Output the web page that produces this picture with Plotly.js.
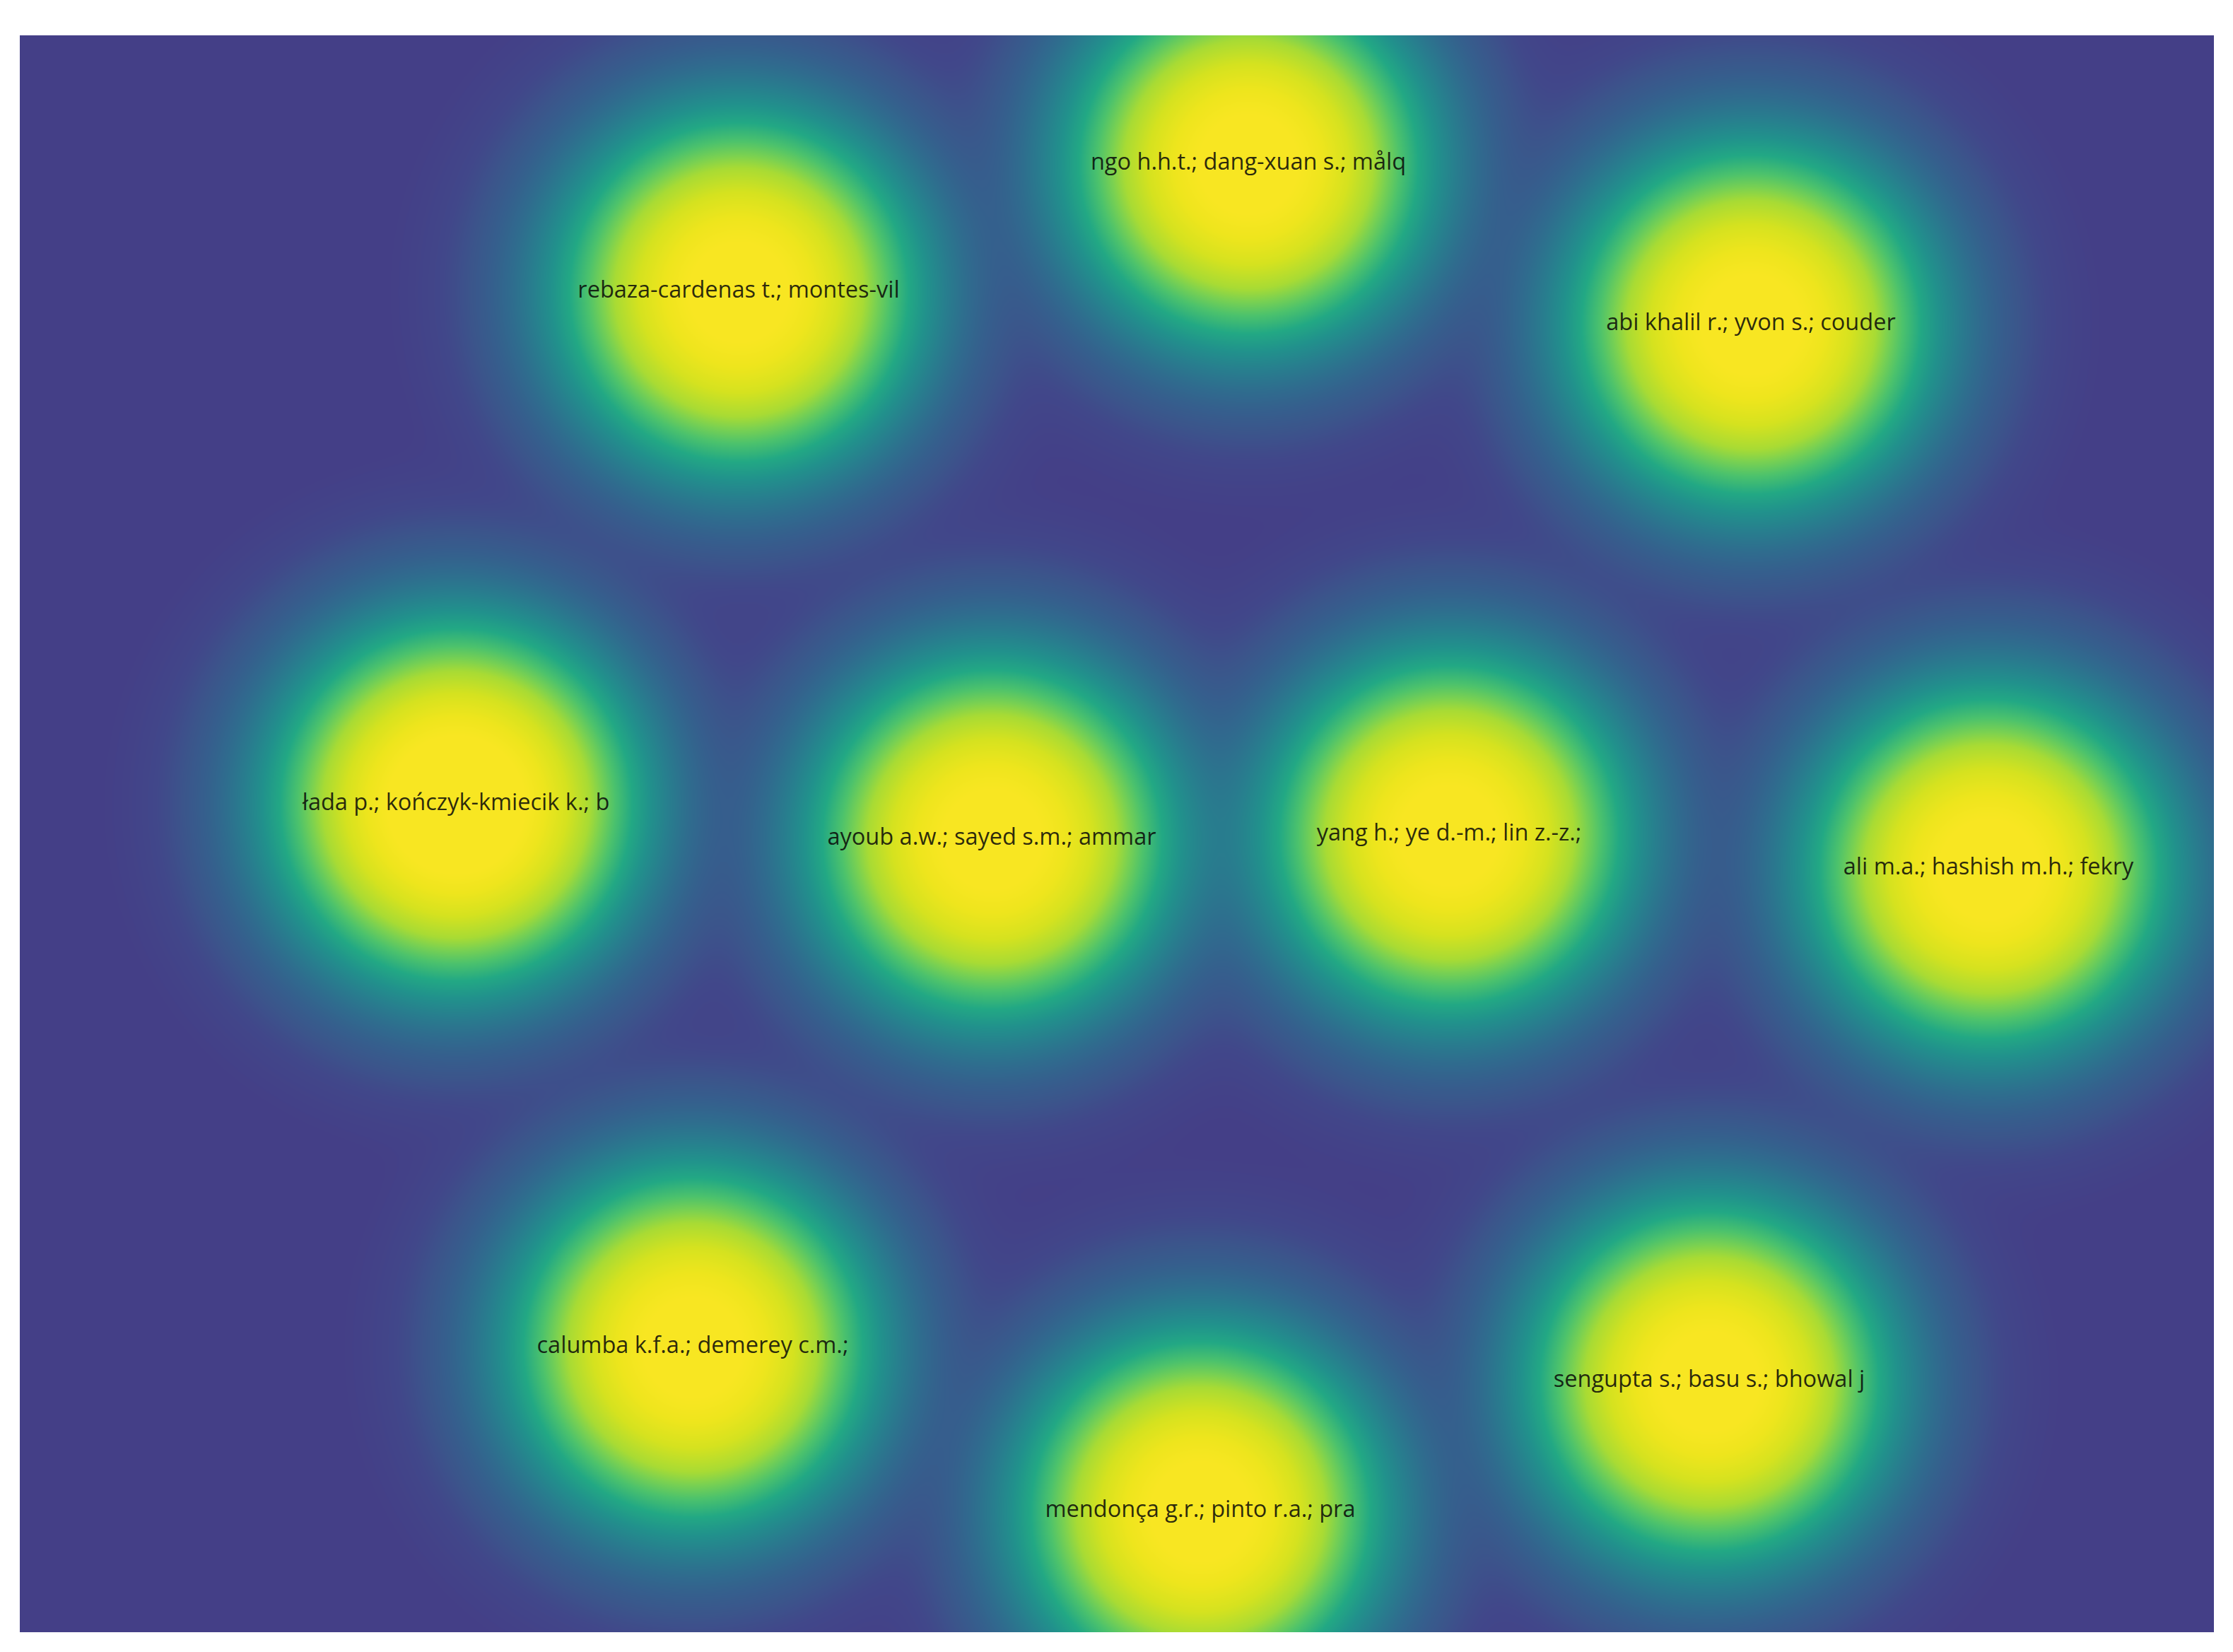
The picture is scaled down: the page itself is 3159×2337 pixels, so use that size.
<!DOCTYPE html>
<html>
<head>
<meta charset="utf-8">
<script src="https://cdn.plot.ly/plotly-3.0.1.min.js"></script>
<style>
  html, body { margin: 0; padding: 0; background: #ffffff; }
  #map { width: 3159px; height: 2337px; }
</style>
</head>
<body>
<div id="map"></div>
<script>
// items of the density map (map units, y grows downward)
var labels = [
  "ngo h.h.t.; dang-xuan s.; målq",
  "rebaza-cardenas t.; montes-vil",
  "abi khalil r.; yvon s.; couder",
  "łada p.; kończyk-kmiecik k.; b",
  "ayoub a.w.; sayed s.m.; ammar",
  "yang h.; ye d.-m.; lin z.-z.;",
  "ali m.a.; hashish m.h.; fekry",
  "calumba k.f.a.; demerey c.m.;",
  "sengupta s.; basu s.; bhowal j",
  "mendonça g.r.; pinto r.a.; pra"
];
var itemX = [1738, 1017, 2449, 617, 1375, 2022, 2785, 952, 2390, 1670];
var itemY = [182, 363, 409, 1088, 1137, 1131, 1179, 1856, 1904, 2088];
var itemW = [1, 1, 1, 1.2, 1, 1, 1, 1, 1, 1];

var mapW = 3104, mapH = 2259;
var spread = 205;   // width of one item's glow on screen
var gamma = 0.3;    // compresses the summed density
var kernel = spread * Math.sqrt(gamma);
var step = 8;

// colour of the glow at a distance from a single item
var ringDist  = [500, 420, 380, 350, 322, 294, 266, 240, 214, 194, 176, 142, 105, 70];
var ringColor = ["#443f87", "#41478a", "#3b558b", "#355f8d", "#2f6c8e", "#287d8e",
                 "#21918c", "#22a884", "#4cc26c", "#7ad151", "#a8db34", "#d5e21f",
                 "#eee51d", "#f8e622"];

function single(d) { return Math.exp(-d*d / (2*spread*spread)); }
var zLow = single(ringDist[0]), zHigh = single(ringDist[ringDist.length - 1]);
var densityColors = ringDist.map(function(d, n) {
  return [(single(d) - zLow) / (zHigh - zLow), ringColor[n]];
});
densityColors[0][0] = 0; densityColors[densityColors.length - 1][0] = 1;

// density grid: gaussian kernels summed, then compressed
var gx = [], gy = [], gz = [];
for (var x = 0; x <= mapW + step; x += step) gx.push(x);
for (var y = 0; y <= mapH + step; y += step) gy.push(y);
for (var j = 0; j < gy.length; j++) {
  var row = [];
  for (var i = 0; i < gx.length; i++) {
    var s = 0;
    for (var k = 0; k < itemX.length; k++) {
      var dx = gx[i] - itemX[k], dy = gy[j] - itemY[k];
      s += itemW[k] * Math.exp(-(dx*dx + dy*dy) / (2*kernel*kernel));
    }
    row.push(Math.pow(s, gamma));
  }
  gz.push(row);
}

var density = {
  type: "heatmap",
  x: gx, y: gy, z: gz,
  zmin: zLow, zmax: zHigh,
  zsmooth: "best",
  colorscale: densityColors,
  showscale: false,
  hoverinfo: "skip"
};

var names = {
  type: "scatter",
  mode: "text",
  x: itemX, y: itemY,
  text: labels,
  textposition: "middle center",
  textfont: { family: "Open Sans", size: 32.5, color: "rgba(8,8,8,0.86)" },
  hoverinfo: "text",
  showlegend: false
};

var layout = {
  width: 3159, height: 2337,
  margin: { l: 28, r: 27, t: 50, b: 28 },
  paper_bgcolor: "#ffffff",
  plot_bgcolor: "#443f87",
  showlegend: false,
  xaxis: { range: [0, mapW], visible: false, fixedrange: true },
  yaxis: { range: [mapH, 0], visible: false, fixedrange: true }
};

Plotly.newPlot("map", [density, names], layout, { displayModeBar: false, staticPlot: true });
</script>
</body>
</html>
